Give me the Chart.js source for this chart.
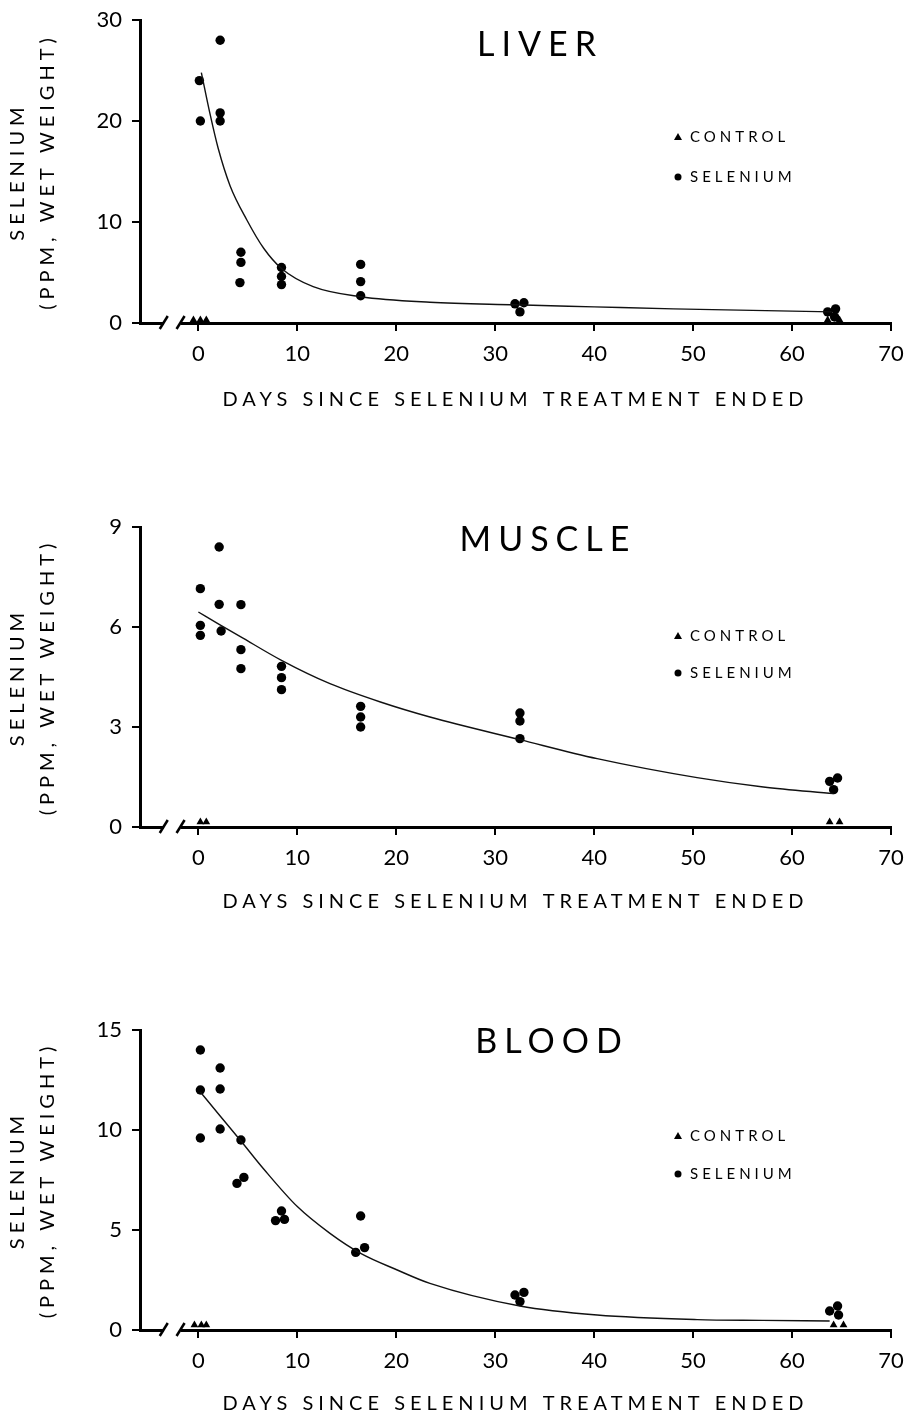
<!DOCTYPE html>
<html>
<head>
<meta charset="utf-8">
<script src="https://cdn.jsdelivr.net/npm/chart.js@4"></script>
<style>
  body { margin: 0; background: #fff; overflow: hidden; }
  canvas { position: absolute; left: 0; }
</style>
</head>
<body>
<canvas id="liverChart" width="907" height="420" style="top:0px"></canvas>
<canvas id="muscleChart" width="907" height="420" style="top:507px"></canvas>
<canvas id="bloodChart" width="907" height="404" style="top:1010px"></canvas>
<script>
const dayTicks = [0, 10, 20, 30, 40, 50, 60, 70];

// liver
const liverYTicks = [0, 10, 20, 30];
const liverSeDays = [0.1, 0.2, 2.2, 2.2, 2.2, 4.3, 4.3, 4.2, 8.4, 8.4, 8.4, 16.4, 16.4, 16.4, 32.0, 32.9, 32.5, 63.6, 64.4, 64.3];
const liverSeValues = [24.0, 20.0, 28.0, 20.8, 20.0, 7.0, 6.0, 4.0, 5.5, 4.6, 3.8, 5.8, 4.1, 2.7, 1.9, 2.0, 1.1, 1.1, 1.4, 0.6];
const liverCtrlDays = [-0.5, 0.2, 0.8, 63.6, 64.8];
const liverCtrlValues = [0.3, 0.3, 0.3, 0.3, 0.3];
const liverFitDays = [0.3, 1.2, 2.0, 3.2, 4.9, 6.6, 8.4, 11.6, 16.4, 23.4, 32.0, 40.0, 48.0, 56.0, 64.0];
const liverFitValues = [24.8, 20.6, 17.3, 13.6, 10.2, 7.4, 5.4, 3.6, 2.6, 2.05, 1.8, 1.6, 1.4, 1.25, 1.1];

// muscle
const muscleYTicks = [0, 3, 6, 9];
const muscleSeDays = [0.2, 0.2, 0.2, 2.1, 2.1, 2.3, 4.3, 4.3, 4.3, 8.4, 8.4, 8.4, 16.4, 16.4, 16.4, 32.5, 32.5, 32.5, 63.8, 64.6, 64.2];
const muscleSeValues = [7.15, 6.05, 5.75, 8.4, 6.68, 5.88, 6.67, 5.32, 4.75, 4.82, 4.48, 4.12, 3.62, 3.3, 3.0, 3.42, 3.18, 2.65, 1.37, 1.47, 1.12];
const muscleCtrlDays = [0.2, 0.8, 63.8, 64.8];
const muscleCtrlValues = [0.15, 0.15, 0.15, 0.15];
const muscleFitDays = [0.0, 2.1, 4.2, 8.4, 13.3, 18.4, 23.4, 32.5, 40.3, 50.4, 57.1, 64.2];
const muscleFitValues = [6.45, 6.08, 5.72, 5.0, 4.3, 3.75, 3.3, 2.62, 2.05, 1.48, 1.2, 1.0];

// blood
const bloodYTicks = [0, 5, 10, 15];
const bloodSeDays = [0.2, 0.2, 0.2, 2.2, 2.2, 2.2, 4.3, 3.9, 4.6, 8.4, 7.8, 8.7, 16.4, 15.9, 16.8, 32.0, 32.9, 32.5, 63.8, 64.6, 64.7];
const bloodSeValues = [14.0, 12.0, 9.6, 13.1, 12.05, 10.05, 9.5, 7.33, 7.63, 5.95, 5.47, 5.53, 5.7, 3.88, 4.12, 1.75, 1.88, 1.42, 0.95, 1.2, 0.75];
const bloodCtrlDays = [-0.4, 0.3, 0.8, 64.2, 65.2];
const bloodCtrlValues = [0.25, 0.25, 0.25, 0.25, 0.25];
const bloodFitDays = [0.2, 2.2, 4.3, 6.6, 10.0, 13.3, 16.4, 20.1, 23.4, 32.5, 40.3, 50.4, 57.0, 63.8];
const bloodFitValues = [11.9, 10.7, 9.45, 8.05, 6.17, 4.83, 3.83, 3.0, 2.33, 1.2, 0.75, 0.52, 0.48, 0.45];

const FONT = 'Lato, "Open Sans", sans-serif';
const X_MIN = -5.9, X_MAX = 70;
const BREAK_FROM = -3.5, BREAK_TO = -1.8;

const toXY = (xs, ys) => xs.map((x, i) => ({x, y: ys[i]}));

// panel title, legend and the broken x axis
const decorations = {
    id: 'decorations',
    beforeDraw(chart) { chart.ctx.letterSpacing = '5px'; },
    afterDatasetsDraw(chart) { chart.ctx.letterSpacing = '0px'; },
    afterDraw(chart, args, o) {
        const {ctx, chartArea: area, scales: {x}} = chart;
        ctx.save();
        const y0 = area.bottom;
        const b1 = x.getPixelForValue(BREAK_FROM), b2 = x.getPixelForValue(BREAK_TO);
        ctx.fillStyle = '#fff';
        ctx.fillRect(b1, y0 - 4, b2 - b1, 8);
        ctx.strokeStyle = '#000';
        ctx.lineWidth = 2.5;
        [b1, b2].forEach(b => {
            ctx.beginPath();
            ctx.moveTo(b - 4, y0 + 6);
            ctx.lineTo(b + 4, y0 - 7);
            ctx.stroke();
        });

        ctx.fillStyle = '#000';
        ctx.textBaseline = 'middle';
        ctx.textAlign = 'center';
        ctx.letterSpacing = '7px';
        ctx.font = '34px ' + FONT;
        ctx.fillText(o.title, o.titleX + 3, area.top + o.titleDy);

        ctx.textAlign = 'left';
        ctx.letterSpacing = '4px';
        ctx.font = '15px ' + FONT;
        const [r1, r2] = o.legendRows;
        const mx = o.legendX, tx = o.legendX + 12;
        ctx.beginPath();
        ctx.moveTo(mx, area.top + r1 - 4);
        ctx.lineTo(mx + 4, area.top + r1 + 3);
        ctx.lineTo(mx - 4, area.top + r1 + 3);
        ctx.closePath();
        ctx.fill();
        ctx.fillText('CONTROL', tx, area.top + r1);
        ctx.beginPath();
        ctx.arc(mx, area.top + r2, 3.5, 0, Math.PI * 2);
        ctx.fill();
        ctx.fillText('SELENIUM', tx, area.top + r2);
        ctx.restore();
    }
};

function buildChart(id, p) {
    const canvas = document.getElementById(id);
    const H = canvas.height;
    const xTitleSize = 20;
    const xTitlePad = H - p.areaBottom - p.xTitleGap - xTitleSize / 2;
    return new Chart(canvas, {
        type: 'scatter',
        data: {
            datasets: [
                {
                    label: 'fit',
                    data: toXY(p.fitDays, p.fitValues),
                    showLine: true,
                    pointRadius: 0,
                    borderColor: '#111',
                    borderWidth: 1.4,
                    cubicInterpolationMode: 'monotone',
                    clip: 4
                },
                {
                    label: 'SELENIUM',
                    data: toXY(p.seDays, p.seValues),
                    pointStyle: 'circle',
                    pointRadius: 4.7,
                    backgroundColor: '#000',
                    borderColor: '#000',
                    borderWidth: 0,
                    clip: 8
                },
                {
                    label: 'CONTROL',
                    data: toXY(p.ctrlDays, p.ctrlValues),
                    pointStyle: 'triangle',
                    pointRadius: 4.5,
                    backgroundColor: '#000',
                    borderColor: '#000',
                    borderWidth: 0,
                    clip: 8
                }
            ]
        },
        options: {
            responsive: false,
            animation: false,
            events: [],
            layout: { padding: { top: p.areaTop, right: 16, left: 0, bottom: 0 } },
            plugins: {
                legend: { display: false },
                tooltip: { enabled: false },
                decorations: {
                    title: p.title, titleX: p.titleX, titleDy: p.titleDy,
                    legendX: 678, legendRows: p.legendRows
                }
            },
            scales: {
                x: {
                    type: 'linear',
                    min: X_MIN,
                    max: X_MAX,
                    afterBuildTicks: s => { s.ticks = dayTicks.map(v => ({value: v})); },
                    afterFit: s => {
                        s.height = H - p.areaBottom;
                        s.paddingLeft = 0;
                        s.paddingRight = 0;
                    },
                    grid: { drawOnChartArea: false, drawTicks: true, tickLength: 8, lineWidth: 2, color: '#000' },
                    border: { display: true, color: '#000', width: 3 },
                    ticks: { color: '#000', font: { family: FONT, size: 22 }, padding: 10, z: 1, maxRotation: 0, autoSkip: false },
                    title: {
                        display: true,
                        text: 'DAYS SINCE SELENIUM TREATMENT ENDED',
                        color: '#000',
                        font: { family: FONT, size: xTitleSize, lineHeight: 1 },
                        padding: { top: 0, bottom: xTitlePad }
                    }
                },
                y: {
                    min: 0,
                    max: p.yTicks[p.yTicks.length - 1],
                    afterBuildTicks: s => { s.ticks = p.yTicks.map(v => ({value: v})); },
                    afterFit: s => {
                        s.width = 140;
                        s.paddingTop = 0;
                        s.paddingBottom = 0;
                    },
                    grid: { drawOnChartArea: false, drawTicks: true, tickLength: 8, lineWidth: 2, color: '#000' },
                    border: { display: true, color: '#000', width: 3 },
                    ticks: { color: '#000', font: { family: FONT, size: 22 }, padding: 10, z: 1 },
                    title: {
                        display: true,
                        text: ['SELENIUM', '(PPM, WET WEIGHT)'],
                        color: '#000',
                        font: { family: FONT, size: 20, lineHeight: 1.5 },
                        padding: { top: 3, bottom: 0 }
                    }
                }
            }
        },
        plugins: [decorations]
    });
}

buildChart('liverChart', {
    title: 'LIVER', titleX: 537, titleDy: 25, legendRows: [117, 157],
    areaTop: 20, areaBottom: 323, xTitleGap: 77, yTicks: liverYTicks,
    seDays: liverSeDays, seValues: liverSeValues,
    ctrlDays: liverCtrlDays, ctrlValues: liverCtrlValues,
    fitDays: liverFitDays, fitValues: liverFitValues
});
buildChart('muscleChart', {
    title: 'MUSCLE', titleX: 545, titleDy: 13, legendRows: [109, 146],
    areaTop: 20, areaBottom: 320, xTitleGap: 75, yTicks: muscleYTicks,
    seDays: muscleSeDays, seValues: muscleSeValues,
    ctrlDays: muscleCtrlDays, ctrlValues: muscleCtrlValues,
    fitDays: muscleFitDays, fitValues: muscleFitValues
});
buildChart('bloodChart', {
    title: 'BLOOD', titleX: 549, titleDy: 12, legendRows: [106, 144],
    areaTop: 20, areaBottom: 320, xTitleGap: 74, yTicks: bloodYTicks,
    seDays: bloodSeDays, seValues: bloodSeValues,
    ctrlDays: bloodCtrlDays, ctrlValues: bloodCtrlValues,
    fitDays: bloodFitDays, fitValues: bloodFitValues
});
</script>
</body>
</html>
